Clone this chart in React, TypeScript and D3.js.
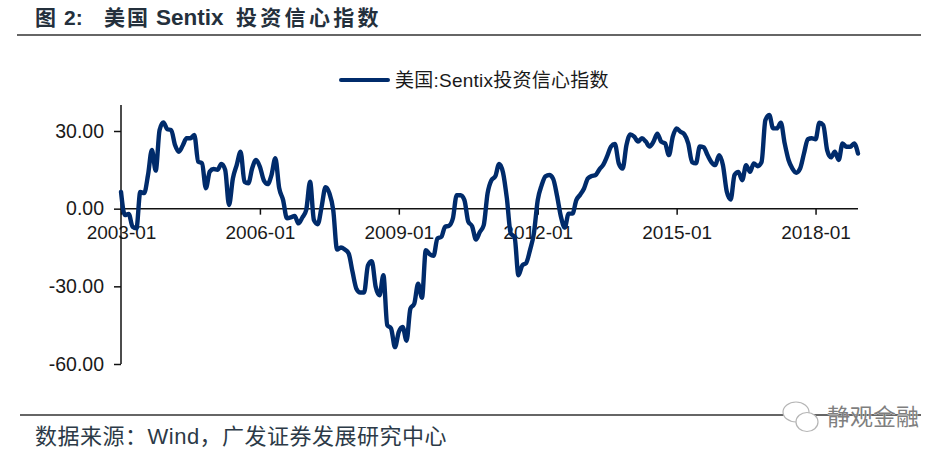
import React, { useEffect, useRef } from "react";
import * as d3 from "d3";

const sentix: number[] = [
  6.5, -2.5, -2, -7, -7.6, 6.5, 6, 13, 22.7, 14.7, 30.4, 33.3, 30.7, 30.4, 24.6, 22,
  24.4, 27.2, 27.2, 28.5, 18.2, 17.5, 7.9, 14.3, 15.3, 15, 17.3, 15, 1.4, 11.7, 16.9, 22,
  10.4, 9.8, 15.6, 18.8, 16.2, 11, 9.5, 13, 19.5, 7.9, 3.4, -3.7, -3.4, -2.8, -5.7, -3.4,
  -0.5, 10.4, -4.4, -6, 0.8, 8.3, 6, -0.5, -15.8, -15, -15.8, -17.3, -24.4, -30.9, -32.4, -32.4,
  -21.9, -20.3, -30.2, -33.5, -25.7, -45, -46.3, -53.5, -47.6, -45.7, -51, -38.6, -36.7, -29, -34.4, -16,
  -17.6, -18.2, -11.5, -10.9, -7, -6.6, -3.8, 5.2, 5.2, 3.3, -5, -6.8, -11.9, -9, -6.4, 5.9,
  11, 12.5, 17.3, 14, 4, -9.6, -11, -25.7, -21.9, -21, -16, -9.6, 3.3, 9, 12.5, 13,
  11.5, 5, -3, -7.3, -1.9, -1.9, 3.3, 5.4, 7.8, 11.7, 12.6, 13, 15.2, 17, 20.3, 24,
  25, 17.5, 15.5, 24.6, 28.7, 27.8, 25.9, 27.2, 25.9, 24, 25.9, 29, 25.9, 25.2, 20.7, 27.8,
  31, 29.7, 28.7, 25.2, 18, 17.5, 24, 23.7, 20.7, 18, 16.8, 20.7, 16.8, 6.5, 3.5, 13,
  14.2, 11, 16.8, 14.2, 17.5, 16.4, 18, 34.2, 36.2, 31, 31, 33.2, 25.2, 18.8, 15.5, 13.9,
  15.5, 21.3, 26.8, 27.2, 26.8, 33.2, 32.3, 22.6, 19.8, 22, 18.8, 25.2, 23.9, 23.9, 25.2, 21.3,
];
const xTickIndex: number[] = [0, 36, 72, 108, 144, 180];
const xTickLabels: string[] = ["2003-01", "2006-01", "2009-01", "2012-01", "2015-01", "2018-01"];
const yTicks: number[] = [30, 0, -30, -60];
const legendText = "美国:Sentix投资信心指数";
const sourceText = "数据来源\uFF1AWind\uFF0C广发证券发展研究中心";
const watermarkText = "静观金融";

const W = 948;
const H = 459;
const NAVY = "#002B6B";
const CJK = '"Liberation Sans", "Noto Sans CJK SC", sans-serif';

export default function App() {
  const xRef = useRef<SVGGElement>(null);
  const yRef = useRef<SVGGElement>(null);

  const x = d3.scaleLinear().domain([0, 191]).range([121, 858]);
  const y = d3.scaleLinear().domain([-60, 30]).range([364, 131]);
  const line = d3
    .line<number>()
    .x((_, i) => x(i))
    .y((d) => y(d))
    .curve(d3.curveMonotoneX);

  useEffect(() => {
    const yAxis = d3
      .axisLeft(y)
      .tickValues(yTicks)
      .tickSize(7)
      .tickPadding(10)
      .tickFormat((d) => (d as number).toFixed(2));
    const ys = d3.select(yRef.current!).call(yAxis as any);
    ys.select(".domain").remove();
    ys.selectAll("line").attr("stroke", "#111").attr("stroke-width", 1.5);
    ys.selectAll("text")
      .attr("font-family", CJK)
      .attr("font-size", 19.5)
      .attr("fill", "#1a1a1a");

    const xAxis = d3
      .axisBottom(x)
      .tickValues(xTickIndex)
      .tickSize(6)
      .tickPadding(11)
      .tickFormat((_, i) => xTickLabels[i]);
    const xs = d3.select(xRef.current!).call(xAxis as any);
    xs.select(".domain").remove();
    xs.selectAll("line").attr("stroke", "#111").attr("stroke-width", 1.5);
    xs.selectAll("text")
      .attr("font-family", CJK)
      .attr("font-size", 19)
      .attr("fill", "#1a1a1a");
  }, []);

  return (
    <svg
      width={W}
      height={H}
      viewBox={`0 0 ${W} ${H}`}
      style={{ position: "fixed", left: 0, top: 0, display: "block", background: "#fff" }}
    >
      <text y={25} fontFamily={CJK} fontSize={21} fontWeight={700} fill="#24303c">
        <tspan x={35}>图</tspan>
        <tspan x={64}>2:</tspan>
        <tspan x={104} letterSpacing={2}>美国</tspan>
        <tspan x={156} fontSize={22.5}>Sentix</tspan>
        <tspan x={236} letterSpacing={3.3}>投资信心指数</tspan>
      </text>
      <line x1={17} x2={921} y1={35} y2={35} stroke="#333" strokeWidth={1.3} />

      <line x1={341} x2={388} y1={80} y2={80} stroke={NAVY} strokeWidth={4} strokeLinecap="round" />
      <text x={395} y={87} fontFamily={CJK} fontSize={19} letterSpacing={0.25} fill="#1a1a1a">
        {legendText}
      </text>

      <g ref={yRef} transform="translate(121,0)" />
      <g ref={xRef} transform={`translate(0,${y(0)})`} />
      <line x1={121} x2={121} y1={105} y2={y(-60)} stroke="#111" strokeWidth={1.5} />
      <line x1={121} x2={858} y1={y(0)} y2={y(0)} stroke="#111" strokeWidth={1.5} />

      <path d={line(sentix) ?? ""} fill="none" stroke={NAVY} strokeWidth={4.4} strokeLinejoin="round" strokeLinecap="round" />

      <line x1={20} x2={921} y1={415} y2={415} stroke="#333" strokeWidth={1.3} />
      <text x={35} y={444} fontFamily={CJK} fontSize={22} letterSpacing={0.5} fill="#2c3a47">
        {sourceText}
      </text>

      <g fill="#fff" stroke="#b5b5b5" strokeWidth={1.2}>
        <ellipse cx={796} cy={412} rx={13} ry={10} />
        <ellipse cx={807} cy={422} rx={11} ry={9.5} />
      </g>
      <text x={827} y={425} fontFamily={CJK} fontSize={23} fill="#7f7f7f" stroke="#fff" strokeWidth={0.5} paintOrder="stroke">
        {watermarkText}
      </text>
    </svg>
  );
}
